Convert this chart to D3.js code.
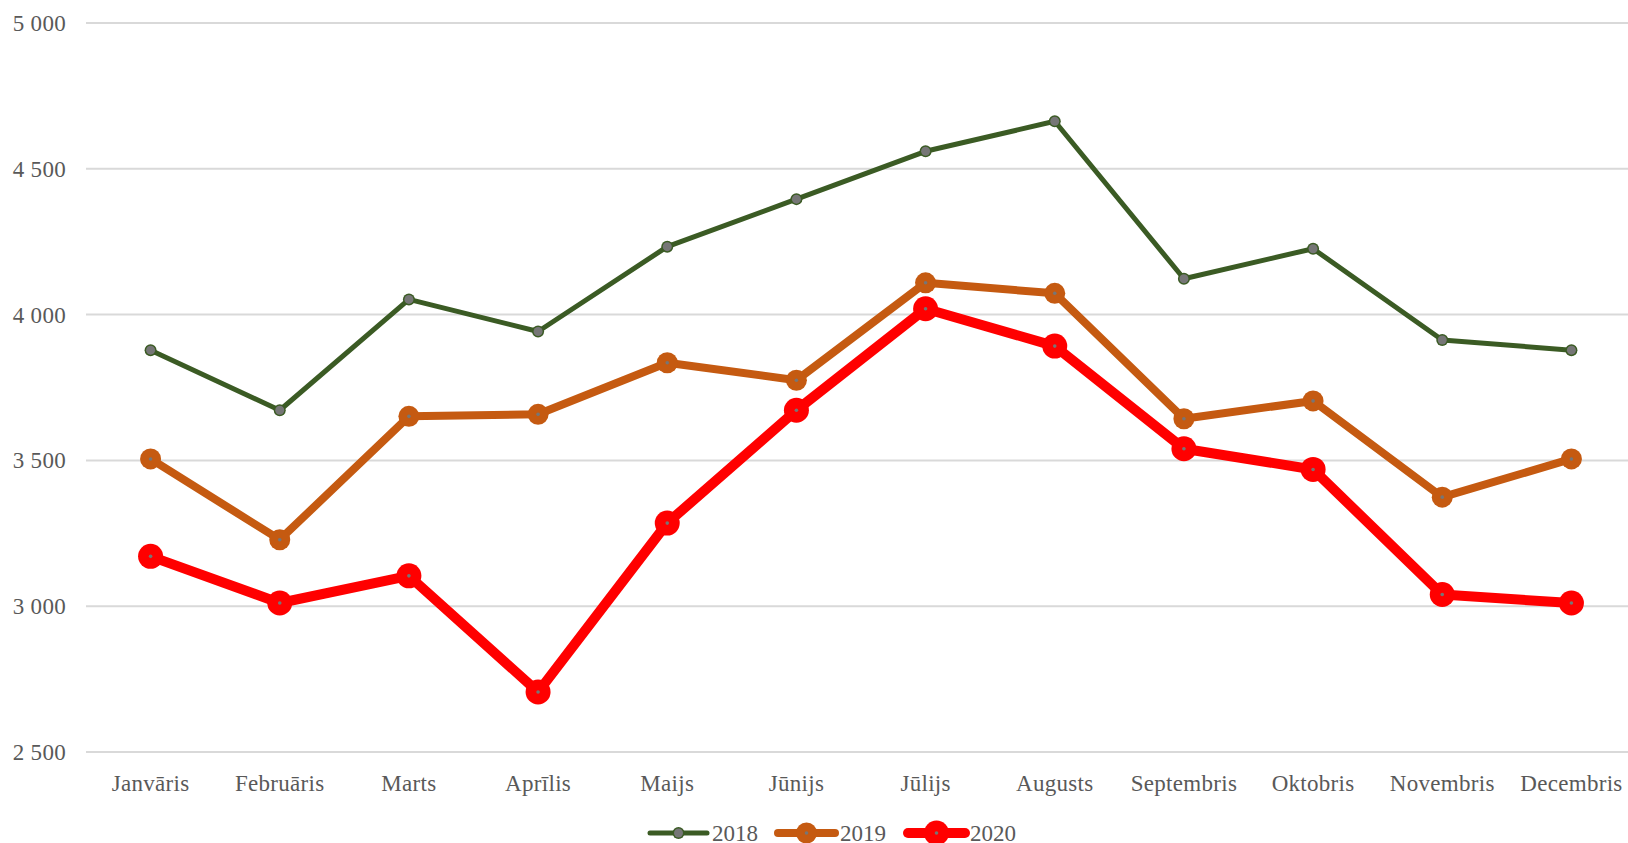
<!DOCTYPE html>
<html>
<head>
<meta charset="utf-8">
<script src="https://cdn.jsdelivr.net/npm/d3@7"></script>
<style>
  body { margin: 0; background: #fff; }
  text { font-family: "Liberation Serif", "Times New Roman", serif; fill: #595959; }
</style>
</head>
<body>
<div id="chart"></div>
<script>
// months + yearly series
const months = ["Janvāris", "Februāris", "Marts", "Aprīlis", "Maijs", "Jūnijs", "Jūlijs", "Augusts", "Septembris", "Oktobris", "Novembris", "Decembris"];
const values2018 = [3878, 3672, 4052, 3942, 4233, 4396, 4560, 4663, 4123, 4226, 3913, 3878];
const values2019 = [3505, 3228, 3651, 3658, 3835, 3775, 4109, 4073, 3643, 3704, 3374, 3505];
const values2020 = [3171, 3011, 3104, 2706, 3285, 3672, 4020, 3892, 3540, 3469, 3040, 3011];
const yTicks = [2500, 3000, 3500, 4000, 4500, 5000];

const width = 1628, height = 843;
const plotLeft = 86, plotRight = 1636, plotTop = 23, plotBottom = 752;

const series = [
  {name: "2018", values: values2018, color: "#3b5b24", lw: 5, r: 6, inner: 4.5},
  {name: "2019", values: values2019, color: "#c55a11", lw: 8, r: 10.5, inner: 1.8},
  {name: "2020", values: values2020, color: "#ff0000", lw: 10, r: 12.5, inner: 1.8}
];

let svg = d3.select("#chart").append("svg")
    .attr("width", width)
    .attr("height", height);

let x = d3.scaleBand().domain(months).range([plotLeft, plotRight]);
let y = d3.scaleLinear().domain([2500, 5000]).range([plotBottom, plotTop]);
const fmt = v => d3.format(",")(v).replace(",", " ");

// gridlines
svg.append("g").selectAll("line")
    .data(yTicks)
    .join("line")
    .attr("x1", plotLeft).attr("x2", plotRight)
    .attr("y1", d => y(d)).attr("y2", d => y(d))
    .attr("stroke", "#d9d9d9")
    .attr("stroke-width", 2);

// y labels
svg.append("g").selectAll("text")
    .data(yTicks)
    .join("text")
    .attr("x", 66)
    .attr("y", d => y(d) + 8)
    .attr("text-anchor", "end")
    .attr("font-size", "23px")
    .attr("letter-spacing", "0.3px")
    .text(d => fmt(d));

// x labels
svg.append("g").selectAll("text")
    .data(months)
    .join("text")
    .attr("x", d => x(d) + x.bandwidth() / 2)
    .attr("y", 791)
    .attr("text-anchor", "middle")
    .attr("font-size", "23px")
    .attr("letter-spacing", "0.3px")
    .text(d => d);

let line = d3.line()
    .x((d, i) => x(months[i]) + x.bandwidth() / 2)
    .y(d => y(d));

series.forEach(s => {
    let g = svg.append("g");
    g.append("path")
        .datum(s.values)
        .attr("d", line)
        .attr("fill", "none")
        .attr("stroke", s.color)
        .attr("stroke-width", s.lw)
        .attr("stroke-linejoin", "round")
        .attr("stroke-linecap", "round");
    g.selectAll("circle.outer")
        .data(s.values)
        .join("circle")
        .attr("class", "outer")
        .attr("cx", (d, i) => x(months[i]) + x.bandwidth() / 2)
        .attr("cy", d => y(d))
        .attr("r", s.r)
        .attr("fill", s.color);
    g.selectAll("circle.inner")
        .data(s.values)
        .join("circle")
        .attr("class", "inner")
        .attr("cx", (d, i) => x(months[i]) + x.bandwidth() / 2)
        .attr("cy", d => y(d))
        .attr("r", s.inner)
        .attr("fill", "#767676");
});

// legend
const legendX = [650, 778, 908];
let legend = svg.append("g");
series.forEach((s, i) => {
    let lg = legend.append("g").attr("transform", "translate(" + legendX[i] + ",833)");
    lg.append("line")
        .attr("x1", 0).attr("x2", 57)
        .attr("stroke", s.color)
        .attr("stroke-width", s.lw)
        .attr("stroke-linecap", "round");
    lg.append("circle").attr("cx", 28.5).attr("r", s.r).attr("fill", s.color);
    lg.append("circle").attr("cx", 28.5).attr("r", s.inner).attr("fill", "#767676");
    lg.append("text")
        .attr("x", 62)
        .attr("y", 8)
        .attr("font-size", "23px")
        .text(s.name);
});
</script>
</body>
</html>
